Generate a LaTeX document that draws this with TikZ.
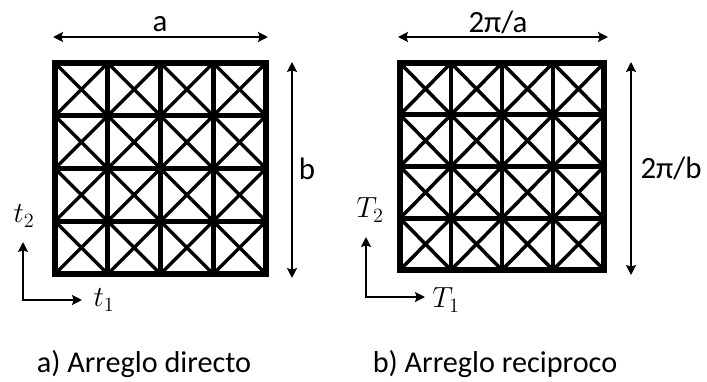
\documentclass[tikz,border=0pt]{standalone}
\usepackage{fontspec}
\setmainfont{Carlito}
\usetikzlibrary{arrows.meta,positioning}

\begin{document}
\begin{tikzpicture}[x=0.025cm,y=-0.025cm,
  frame/.style={line width=4.2pt,line join=miter},
  cell/.style={line width=3.4pt},
  diag/.style={line width=2.5pt},
  dim/.style={{Stealth[length=7pt,width=7pt,inset=1pt]}-{Stealth[length=7pt,width=7pt,inset=1pt]},line width=1.5pt},
  axis/.style={{Stealth[length=7pt,width=7pt,inset=1pt]}-{Stealth[length=7pt,width=7pt,inset=1pt]},line width=1.5pt,line join=miter},
  lbl/.style={font=\fontsize{22}{24}\selectfont,inner sep=0pt,anchor=base},
  vec/.style={font=\fontsize{21}{24}\selectfont,inner sep=0pt},
  captxt/.style={font=\fontsize{21.5}{24}\selectfont,inner sep=0pt,anchor=base}]
  \useasboundingbox (0,0) rectangle (707,381);
  % two lattices
  \foreach \ox/\oy/\w/\h in {55/63/211/211,400/63/204/207} {
    \foreach \i in {0,...,3} {
      \foreach \j in {0,...,3} {
        \draw[diag] ({\ox+\i*\w/4},{\oy+\j*\h/4}) -- ++({\w/4},{\h/4});
        \draw[diag] ({\ox+(\i+1)*\w/4},{\oy+\j*\h/4}) -- ++({-\w/4},{\h/4});
      }
    }
    \foreach \k in {1,2,3} {
      \draw[cell] ({\ox+\k*\w/4},\oy) -- ++(0,\h);
      \draw[cell] (\ox,{\oy+\k*\h/4}) -- ++(\w,0);
    }
    \draw[frame] (\ox,\oy) rectangle ++(\w,\h);
  }
  % direct lattice
  \coordinate (aw) at (53,37);
  \coordinate (ae) at (268,37);
  \draw[dim] (aw) -- (ae);
  \node[lbl] (la) at (160,32) {a};
  \coordinate (bn) at (292,62);
  \coordinate (bs) at (292,278);
  \draw[dim] (bn) -- (bs);
  \node[lbl] (lb) at (307,179) {b};
  \coordinate (t2) at (23,242);
  \coordinate (t1) at (82,300);
  \draw[axis] (t2) |- (t1);
  \node[vec] (lt2) at (24,216) {$t_2$};
  \node[vec] (lt1) at (104,300) {$t_1$};
  \node[captxt] (capa) at (144,372) {a) Arreglo directo};
  % reciprocal lattice
  \coordinate (Aw) at (398,37);
  \coordinate (Ae) at (608,37);
  \draw[dim] (Aw) -- (Ae);
  \node[lbl] (lA) at (498,33) {2π/a};
  \coordinate (Bn) at (631,62);
  \coordinate (Bs) at (631,275);
  \draw[dim] (Bn) -- (Bs);
  \node[lbl] (lB) at (671,178) {2π/b};
  \coordinate (T2) at (366,237);
  \coordinate (T1) at (425,297);
  \draw[axis] (T2) |- (T1);
  \node[vec] (lT2) at (370,210) {$T_2$};
  \node[vec] (lT1) at (446,300) {$T_1$};
  \node[captxt] (capb) at (495,372) {b) Arreglo reciproco};
\end{tikzpicture}
\end{document}
